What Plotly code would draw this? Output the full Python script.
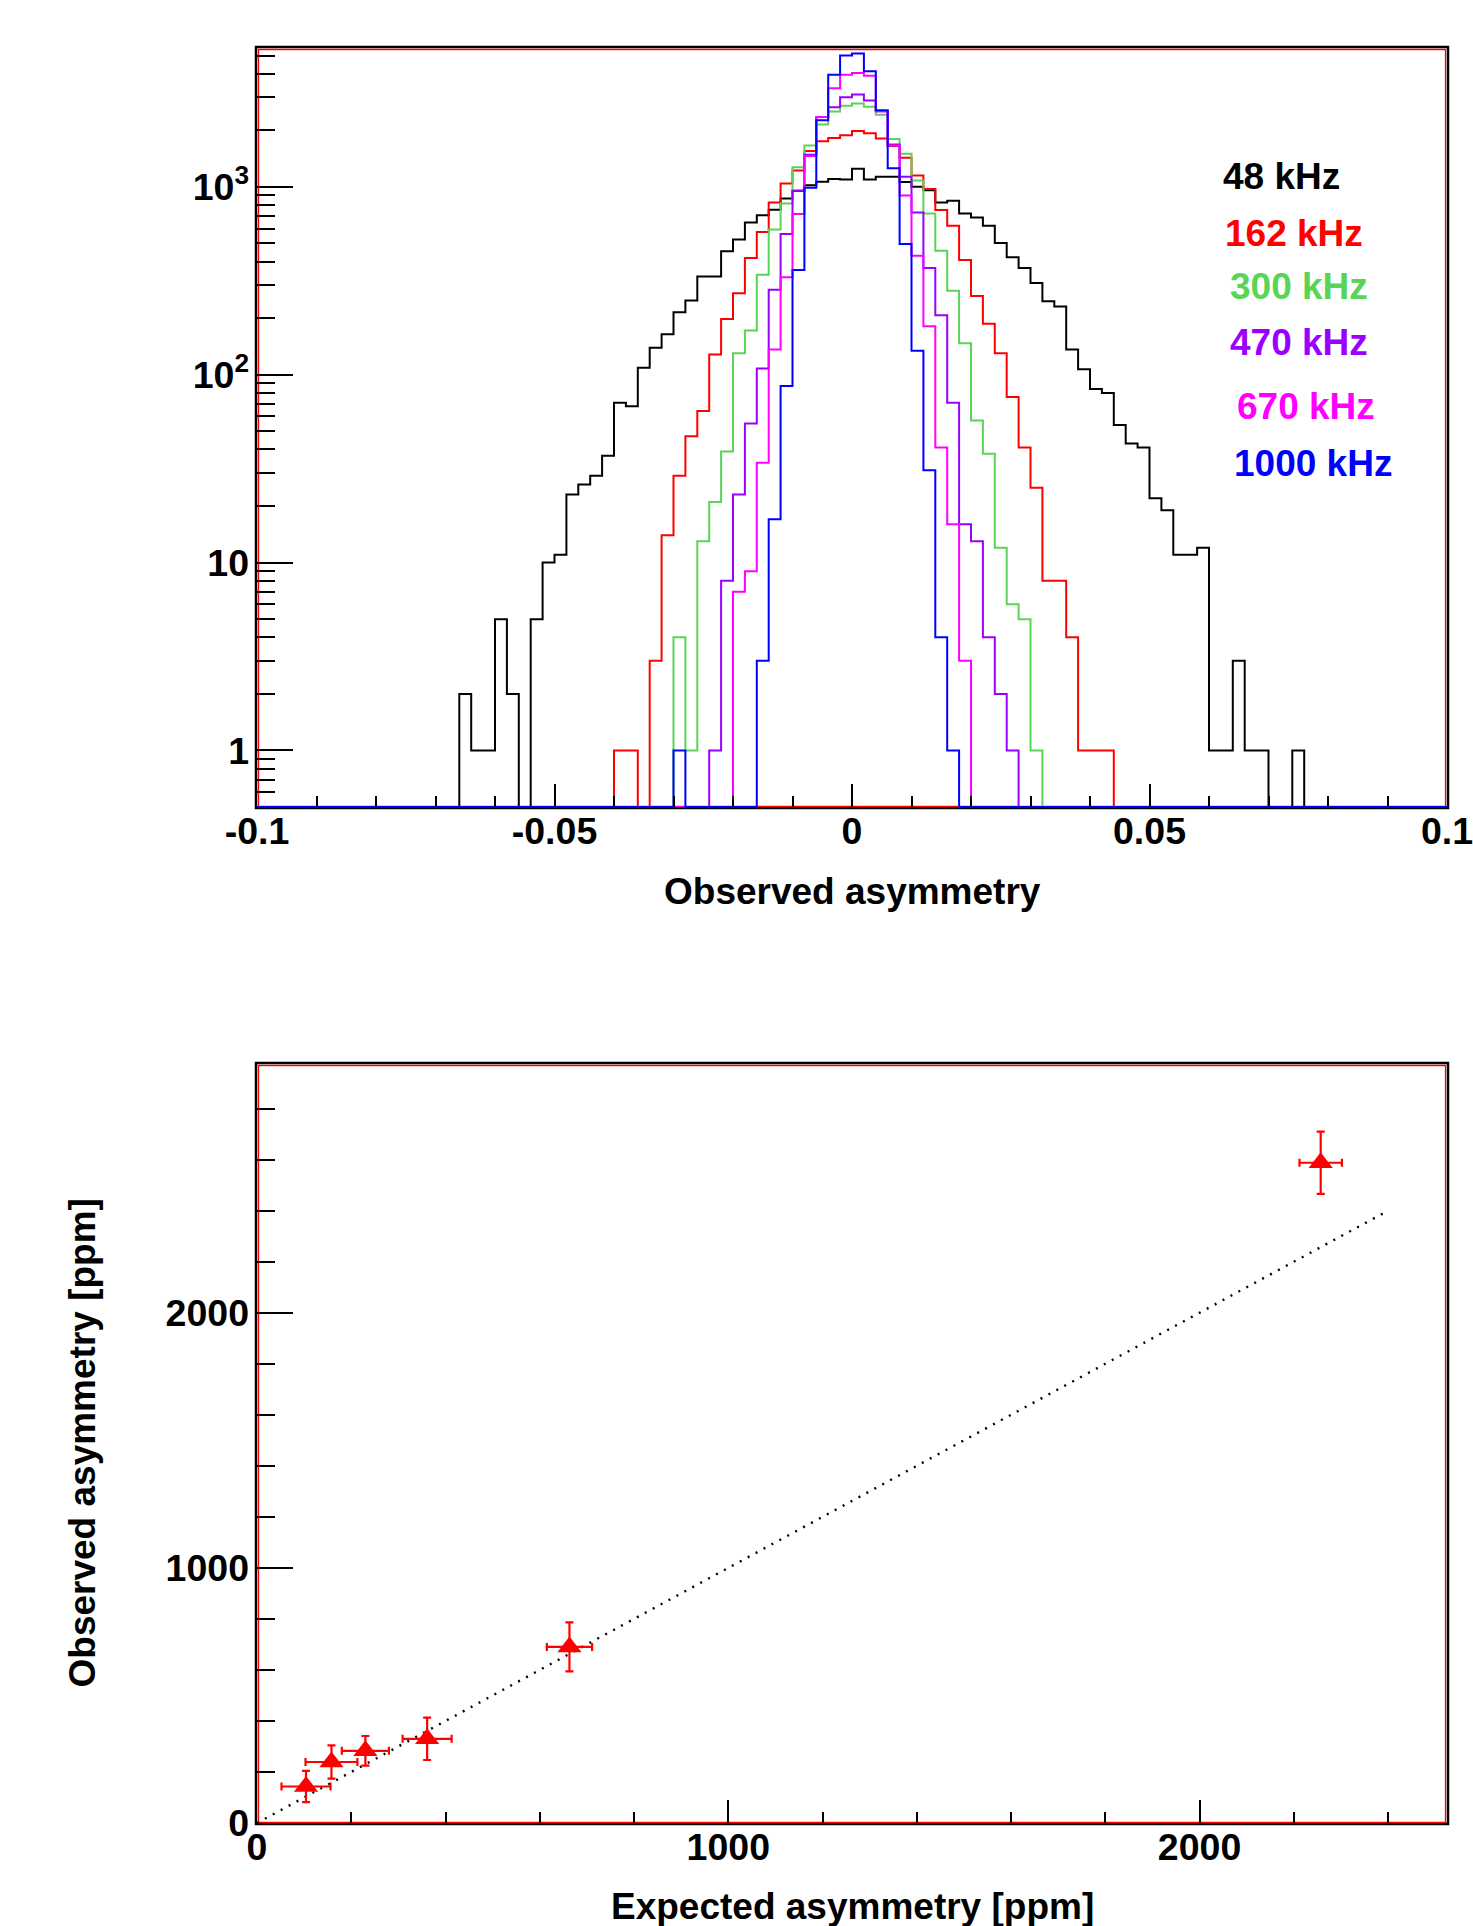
import numpy as np
import plotly.graph_objects as go

W, H = 1473, 1926

# ---------------- data: top histograms (100 bins, -0.1 .. 0.1) ----------------
X_MIN, X_MAX, N_BINS = -0.1, 0.1, 100
labels = ["48 kHz", "162 kHz", "300 kHz", "470 kHz", "670 kHz", "1000 kHz"]
colors = ["#000000", "#ff0000", "#59d454", "#9900ff", "#ff00ff", "#0000ff"]

first_bin_48 = 17
counts_48 = [2, 1, 1, 5, 2, 0, 5, 10, 11, 23, 26, 29, 37, 71, 68, 109, 139, 164, 215, 248,
             333, 333, 454, 524, 645, 705, 755, 867, 952, 1020, 1065, 1100, 1095, 1250, 1095,
             1130, 1130, 1060, 1000, 960, 826, 843, 722, 687, 621, 502, 422, 370, 308, 246,
             231, 136, 107, 84, 80, 54, 43, 41, 22, 19, 11, 11, 12, 1, 1, 3, 1, 1, 0, 0, 1]
first_bin_162 = 30
counts_162 = [1, 1, 0, 3, 14, 29, 47, 64, 128, 198, 271, 418, 575, 826, 1042, 1220, 1550, 1750,
              1820, 1880, 1980, 1930, 1810, 1650, 1430, 1150, 973, 752, 621, 408, 262, 187, 130,
              76, 41, 25, 8, 8, 4, 1, 1, 1]
first_bin_300 = 35
counts_300 = [4, 1, 13, 21, 39, 130, 172, 340, 593, 816, 1270, 1660, 2150, 2520, 2700, 2780,
              2670, 2420, 1800, 1500, 1080, 722, 457, 280, 147, 57, 38, 12, 6, 5, 1]
first_bin_470 = 38
counts_470 = [1, 8, 23, 55, 108, 283, 561, 952, 1480, 2350, 2650, 3000, 3100, 2880, 2535, 1680,
              1130, 731, 370, 207, 71, 16, 13, 4, 2, 1]
first_bin_670 = 40
counts_670 = [7, 9, 34, 136, 330, 716, 1460, 2350, 3350, 3950, 4030, 3900, 2520, 1660, 900, 430,
              181, 41, 16, 3]
first_bin_1000 = 35
counts_1000 = [1, 0, 0, 0, 0, 0, 0, 3, 17, 87, 361, 990, 2260, 3950, 5000, 5120, 4120, 2560,
               1257, 497, 134, 31, 4, 1]

hist_first = [first_bin_48, first_bin_162, first_bin_300, first_bin_470, first_bin_670, first_bin_1000]
hist_counts = [counts_48, counts_162, counts_300, counts_470, counts_670, counts_1000]

top_xticks = [-0.1, -0.05, 0, 0.05, 0.1]
top_xticktext = ["-0.1", "-0.05", "0", "0.05", "0.1"]
top_yticks = [1, 10, 100, 1000]
top_yticktext = ["1", "10", "10<sup>2</sup>", "10<sup>3</sup>"]

# ---------------- data: bottom scatter ----------------
expected = [104, 158, 230, 361, 663, 2257]
observed = [143, 239, 283, 330, 690, 2588]
expected_err = [52, 55, 50, 52, 48, 45]
observed_err = [61, 65, 58, 83, 96, 122]
line_x = [0, 2400]
line_y = [0, 2400]
bot_ticks = [0, 1000, 2000]

# ---------------- layout geometry (pixels) ----------------
L, R = 257, 1447
T1, B1 = 48, 807
T2, B2 = 1064, 1823
Y_FLOOR_LOG = -0.301
Y_TOP_LOG = 3.739

def px(x):
    return x / W

def py(y):
    return 1 - y / H

FONT = "Liberation Sans"
TICK_SIZE = 37.5
TITLE_SIZE = 37

fig = go.Figure()

edges = np.linspace(X_MIN, X_MAX, N_BINS + 1)
floor_val = 10 ** Y_FLOOR_LOG
for name, col, fb, cnt in zip(labels, colors, hist_first, hist_counts):
    full = np.zeros(N_BINS)
    full[fb:fb + len(cnt)] = cnt
    yv = np.where(full > 0, full, floor_val)
    xs = list(edges[:-1]) + [edges[-1]]
    ys = list(yv) + [yv[-1]]
    fig.add_trace(go.Scatter(x=xs, y=ys, mode="lines", line=dict(color=col, width=2, shape="hv"),
                             xaxis="x", yaxis="y", showlegend=False, name=name))

# bottom plot
fig.add_trace(go.Scatter(x=line_x, y=line_y, mode="lines",
                         line=dict(color="black", width=2.4, dash="2px,7px"),
                         xaxis="x2", yaxis="y2", showlegend=False))
fig.add_trace(go.Scatter(x=expected, y=observed, mode="markers",
                         marker=dict(symbol="triangle-up", size=21, color="#ff0000"),
                         error_x=dict(type="data", array=expected_err, color="#ff0000", thickness=2.2, width=4),
                         error_y=dict(type="data", array=observed_err, color="#ff0000", thickness=2.2, width=4),
                         xaxis="x2", yaxis="y2", showlegend=False))

tickfont = dict(family=FONT, size=TICK_SIZE, color="black", weight="bold")

minor_top_x = [v / 100 for v in range(-10, 11) if v % 5 != 0]
minor_top_y = [0.6, 0.7, 0.8, 0.9] + [m * 10 ** e for e in range(0, 4) for m in range(2, 10)
                                       if m * 10 ** e < 5500]
minor_bot_x = [v for v in range(200, 2600, 200) if v % 1000 != 0]
minor_bot_y = [v for v in range(200, 3000, 200) if v % 1000 != 0]

common = dict(showgrid=False, zeroline=False, showline=False, ticks="inside", automargin=False,
              tickcolor="black", tickwidth=2, tickfont=tickfont, ticklabeloverflow="allow")

fig.update_layout(
    template="none",
    width=W, height=H,
    margin=dict(l=0, r=0, t=0, b=0, pad=0),
    paper_bgcolor="white", plot_bgcolor="white",
    xaxis=dict(domain=[px(L), px(R)], anchor="y", range=[X_MIN, X_MAX],
               tickmode="array", tickvals=top_xticks, ticktext=top_xticktext, ticklen=23,
               ticklabelstandoff=-2,
               minor=dict(tickmode="array", tickvals=minor_top_x, ticks="inside", ticklen=11,
                          tickwidth=2, tickcolor="black"),
               **common),
    yaxis=dict(domain=[py(B1), py(T1)], anchor="x", type="log", range=[Y_FLOOR_LOG, Y_TOP_LOG],
               tickmode="array", tickvals=top_yticks, ticktext=top_yticktext, ticklen=36,
               ticklabelstandoff=7,
               minor=dict(tickmode="array", tickvals=minor_top_y, ticks="inside", ticklen=18,
                          tickwidth=2, tickcolor="black"),
               **common),
    xaxis2=dict(domain=[px(L), px(R)], anchor="y2", range=[0, 2525],
                tickmode="array", tickvals=bot_ticks, ticktext=[str(v) for v in bot_ticks], ticklen=23,
                ticklabelstandoff=-2,
                minor=dict(tickmode="array", tickvals=minor_bot_x, ticks="inside", ticklen=11,
                           tickwidth=2, tickcolor="black"),
                **common),
    yaxis2=dict(domain=[py(B2), py(T2)], anchor="x2", range=[0, 2975],
                tickmode="array", tickvals=bot_ticks, ticktext=[str(v) for v in bot_ticks], ticklen=36,
                ticklabelstandoff=7,
                minor=dict(tickmode="array", tickvals=minor_bot_y, ticks="inside", ticklen=18,
                           tickwidth=2, tickcolor="black"),
                **common),
)

# frames: black outer + red inner line (ROOT style)
shapes = []
for (t, b) in [(T1, B1), (T2, B2)]:
    shapes.append(dict(type="rect", xref="paper", yref="paper", layer="below",
                       x0=px(L - 1), x1=px(R + 1), y0=py(b + 1), y1=py(t - 1),
                       line=dict(color="black", width=2.5), fillcolor="rgba(0,0,0,0)"))
    shapes.append(dict(type="rect", xref="paper", yref="paper", layer="below",
                       x0=px(L + 1.5), x1=px(R - 1.5), y0=py(b - 0.5), y1=py(t + 1.5),
                       line=dict(color="#ff0000", width=1.3), fillcolor="rgba(0,0,0,0)"))
fig.update_layout(shapes=shapes)

ann = []
legend_pos = [(1221, 177), (1223, 233), (1228, 286), (1228, 342), (1235, 406), (1232, 463)]
for (lx, ly), name, col in zip(legend_pos, labels, colors):
    ann.append(dict(text=f"<b>{name}</b>", x=px(lx), y=py(ly), xref="paper", yref="paper",
                    xanchor="left", yanchor="middle", showarrow=False,
                    font=dict(family=FONT, size=37, color=col)))

ann.append(dict(text="<b>Observed asymmetry</b>", x=px((L + R) / 2), y=py(891), xref="paper", yref="paper",
                xanchor="center", yanchor="middle", showarrow=False,
                font=dict(family=FONT, size=TITLE_SIZE, color="black")))
ann.append(dict(text="<b>Expected asymmetry [ppm]</b>", x=px((L + R) / 2), y=py(1906), xref="paper", yref="paper",
                xanchor="center", yanchor="middle", showarrow=False,
                font=dict(family=FONT, size=TITLE_SIZE, color="black")))
ann.append(dict(text="<b>Observed asymmetry [ppm]</b>", x=px(82), y=py((T2 + B2) / 2), xref="paper", yref="paper",
                xanchor="center", yanchor="middle", showarrow=False, textangle=-90,
                font=dict(family=FONT, size=TITLE_SIZE, color="black")))
fig.update_layout(annotations=ann)

fig.write_html("out.html", config={"displayModeBar": False},
               post_script="document.body.style.margin='0px';document.body.style.overflow='hidden';")
